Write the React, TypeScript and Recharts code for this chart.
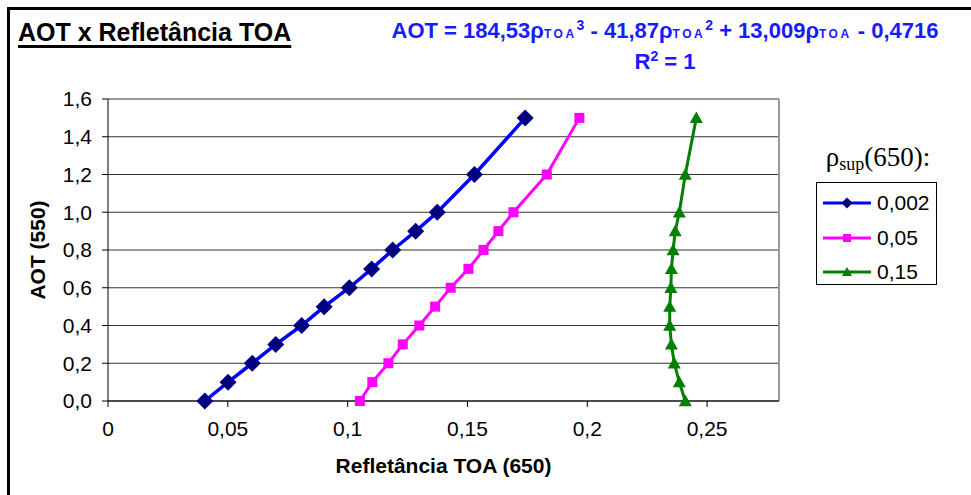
import { LineChart, Line, XAxis, YAxis, CartesianGrid, ReferenceLine } from 'recharts';

// AOT levels (y) shared by the three curves
const aotLevels = [0, 0.1, 0.2, 0.3, 0.4, 0.5, 0.6, 0.7, 0.8, 0.9, 1.0, 1.2, 1.5];

// TOA reflectance at 650 nm for each surface reflectance
const toa002 = [0.0404, 0.0501, 0.0602, 0.07, 0.0808, 0.0902, 0.1007, 0.11, 0.1188, 0.1284, 0.1374, 0.1529, 0.1741];
const toa005 = [0.1051, 0.1103, 0.117, 0.123, 0.1299, 0.1365, 0.143, 0.1504, 0.1567, 0.1629, 0.1692, 0.1831, 0.1967];
const toa015 = [0.2409, 0.2384, 0.2363, 0.2351, 0.2344, 0.2344, 0.2349, 0.2351, 0.2358, 0.2367, 0.2384, 0.2409, 0.2455];

const seriesNames = ['0,002', '0,05', '0,15'];
const xTicks = [0, 0.05, 0.1, 0.15, 0.2, 0.25];
const yTicks = [0, 0.2, 0.4, 0.6, 0.8, 1.0, 1.2, 1.4, 1.6];

const toRows = (xs: number[]) => xs.map((x, i) => ({ toa: x, aot: aotLevels[i] }));

const FONT = '"Liberation Sans", Arial, sans-serif';

const diamond = (cx: number, cy: number, r: number) =>
    `M${cx},${cy - r}L${cx + r},${cy}L${cx},${cy + r}L${cx - r},${cy}Z`;
const triangle = (cx: number, cy: number, r: number) =>
    `M${cx},${cy - r}L${cx + r},${cy + r * 0.8}L${cx - r},${cy + r * 0.8}Z`;

const series = [
    { name: seriesNames[0], data: toRows(toa002), line: '#0000FF', mark: '#000080', shape: 'diamond', width: 3.5 },
    { name: seriesNames[1], data: toRows(toa005), line: '#FF00FF', mark: '#FF00FF', shape: 'square', width: 3 },
    { name: seriesNames[2], data: toRows(toa015), line: '#008000', mark: '#008000', shape: 'triangle', width: 3 },
];

function Marker({ cx, cy, shape, fill, small }: any) {
    if (cx == null || cy == null) return null;
    if (shape === 'diamond') return <path d={diamond(cx, cy, small ? 5.5 : 8.5)} fill={fill} />;
    if (shape === 'square') {
        const h = small ? 4 : 5;
        return <rect x={cx - h} y={cy - h} width={h * 2} height={h * 2} fill={fill} />;
    }
    return <path d={triangle(cx, cy, small ? 5 : 6.5)} fill={fill} />;
}

function LegendBox() {
    return (
        <div style={{ position: 'absolute', left: 808, top: 140, width: 140 }}>
            <div style={{ fontFamily: '"Liberation Serif", "Times New Roman", serif', fontSize: 27, textAlign: 'center', lineHeight: '34px' }}>
                ρ<sub style={{ fontSize: 18, verticalAlign: '-4px' }}>sup</sub>(650):
            </div>
            <div style={{ position: 'absolute', left: 8, top: 42, width: 121, height: 103, border: '1px solid #000', boxSizing: 'border-box', background: '#fff' }}>
                {series.map((s, i) => (
                    <div key={s.name} style={{ position: 'absolute', left: 0, top: 3 + i * 34.5, height: 34, display: 'flex', alignItems: 'center' }}>
                        <svg width={60} height={20} style={{ display: 'block' }}>
                            <line x1={6} y1={10} x2={54} y2={10} stroke={s.line} strokeWidth={3} />
                            <Marker cx={30} cy={10} shape={s.shape} fill={s.mark} small />
                        </svg>
                        <span style={{ fontFamily: FONT, fontSize: 21 }}>{s.name}</span>
                    </div>
                ))}
            </div>
        </div>
    );
}

const TOA = () => <span style={{ fontSize: 12, letterSpacing: 2.5 }}>TOA</span>;
const Sup = ({ children }: any) => <sup style={{ fontSize: 14, lineHeight: 0 }}>{children}</sup>;

export default function App() {
    return (
        <div style={{ position: 'fixed', left: 0, top: 0, width: 971, height: 495, overflow: 'hidden', background: '#fff' }}>
            <div style={{ position: 'absolute', left: 7, top: 7, width: 1100, height: 600, borderLeft: '3px solid #000', borderTop: '3px solid #000' }} />
            <div style={{ position: 'absolute', left: 18, top: 17, fontFamily: FONT, fontWeight: 'bold', fontSize: 25, lineHeight: '30px', textDecoration: 'underline', textDecorationThickness: 3, textUnderlineOffset: 4 }}>
                AOT x Refletância TOA
            </div>
            <div style={{ position: 'absolute', left: 360, width: 610, top: 17, fontFamily: FONT, fontWeight: 'bold', fontSize: 22, color: '#1a1aff', textAlign: 'center', lineHeight: '28px' }}>
                <div>
                    AOT = 184,53ρ<TOA /><Sup>3</Sup> - 41,87ρ<TOA /><Sup>2</Sup> + 13,009ρ<TOA /> - 0,4716
                </div>
                <div>
                    R<Sup>2</Sup> = 1
                </div>
            </div>
            <div style={{ position: 'absolute', left: 0, top: 0 }}>
                <LineChart width={971} height={495} margin={{ top: 99, right: 192, bottom: 64, left: 30 }}>
                    <CartesianGrid vertical={false} stroke="#333" horizontalValues={yTicks} />
                    <XAxis
                        type="number"
                        dataKey="toa"
                        domain={[0, 0.28]}
                        ticks={xTicks}
                        tickFormatter={(v: number) => String(v).replace('.', ',')}
                        allowDataOverflow
                        height={30}
                        stroke="#000"
                        tickSize={6}
                        tickMargin={14}
                        tick={{ fontFamily: FONT, fontSize: 21, fill: '#000' }}
                        label={{ value: 'Refletância TOA (650)', position: 'bottom', offset: 27, style: { fontFamily: FONT, fontWeight: 'bold', fontSize: 21, fill: '#000' } }}
                    />
                    <YAxis
                        type="number"
                        dataKey="aot"
                        domain={[0, 1.6]}
                        ticks={yTicks}
                        tickFormatter={(v: number) => v.toFixed(1).replace('.', ',')}
                        width={78}
                        stroke="#000"
                        tickSize={6}
                        tickMargin={10}
                        tick={{ fontFamily: FONT, fontSize: 21, fill: '#000' }}
                        label={{ value: 'AOT (550)', angle: -90, position: 'insideLeft', offset: 8, style: { fontFamily: FONT, fontWeight: 'bold', fontSize: 21, fill: '#000', textAnchor: 'middle' } }}
                    />
                    <ReferenceLine y={1.6} stroke="#999" strokeWidth={2} />
                    <ReferenceLine x={0.28} stroke="#999" strokeWidth={2} />
                    {series.map(s => (
                        <Line
                            key={s.name}
                            data={s.data}
                            dataKey="aot"
                            name={s.name}
                            type="linear"
                            stroke={s.line}
                            strokeWidth={s.width}
                            isAnimationActive={false}
                            dot={(p: any) => <Marker key={`${s.name}-${p.index}`} cx={p.cx} cy={p.cy} shape={s.shape} fill={s.mark} />}
                            activeDot={false}
                        />
                    ))}
                </LineChart>
            </div>
            <LegendBox />
        </div>
    );
}
